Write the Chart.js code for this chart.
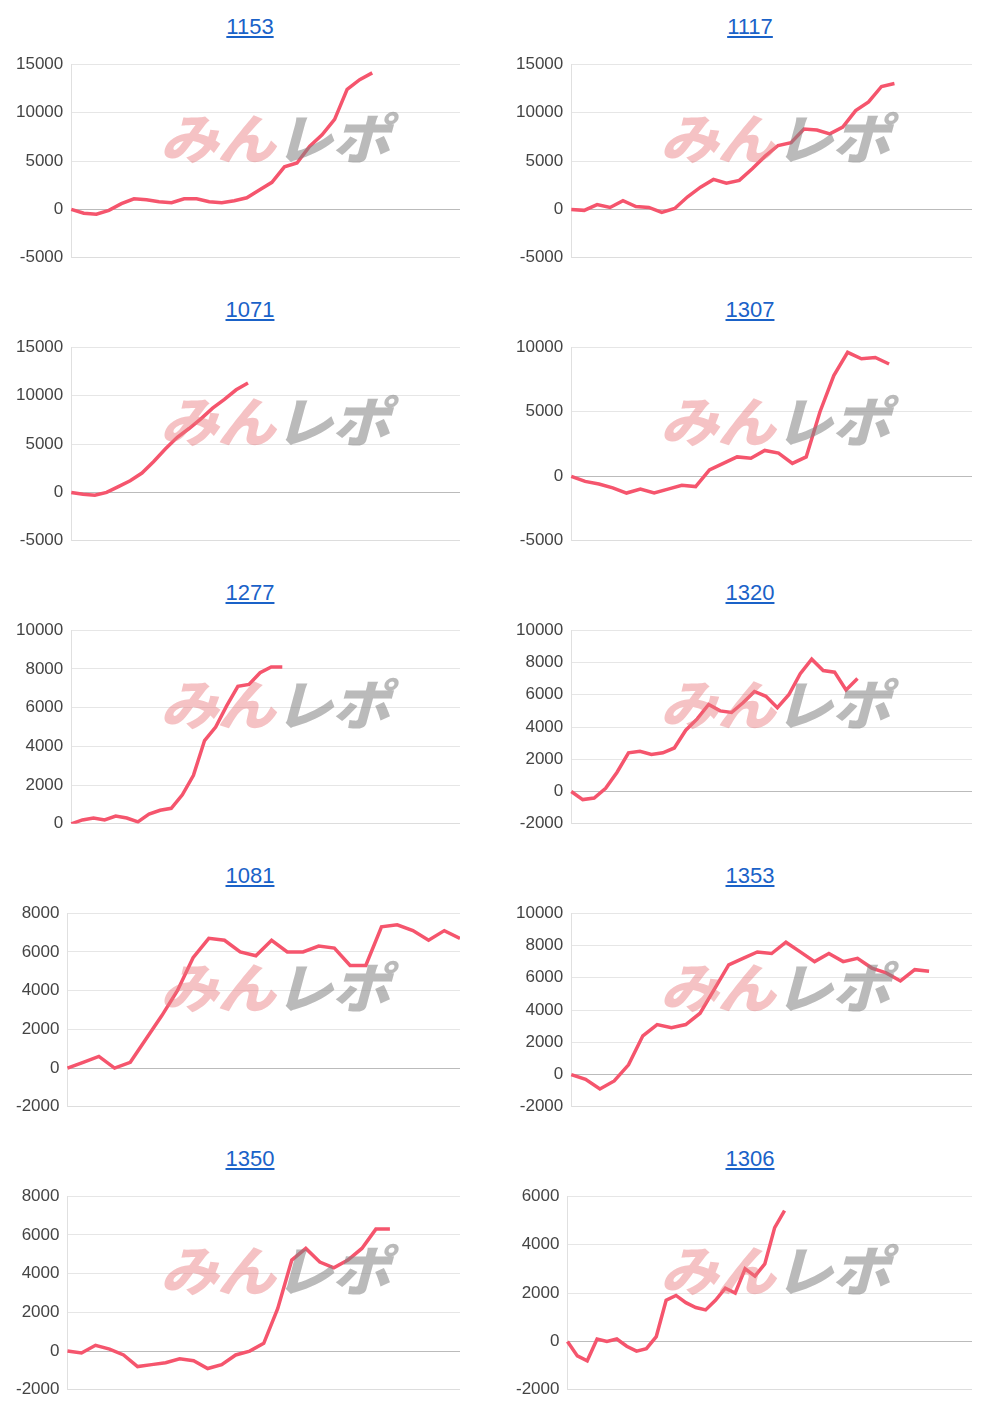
<!DOCTYPE html>
<html>
<head>
<meta charset="utf-8">
<script src="https://cdn.jsdelivr.net/npm/chart.js@4/dist/chart.umd.min.js"></script>
<style>
  body { margin: 0; background: #fff; font-family: "Liberation Sans", Arial, sans-serif; }
  #grid { display: grid; grid-template-columns: 500px 500px; width: 1000px; }
  .cell { position: relative; height: 283px; }
  .title { height: 46px; line-height: 54px; text-align: center; font-size: 22px; color: #1a62c8; text-decoration: underline; }
  .box { position: relative; height: 230px; padding: 0 40px 0 8px; }
  .cell:nth-child(2n) .box { padding: 0 28px 0 8px; }
  .wm { position: absolute; left: 160px; top: 50px; font: italic 900 54px "Noto Sans CJK JP"; letter-spacing: -1px; pointer-events: none; white-space: nowrap; transform: scaleX(1.08); transform-origin: left; }
  .wm .a { color: rgba(232, 120, 125, 0.45); }
  .wm .b { color: rgba(130, 130, 130, 0.55); }
</style>
</head>
<body>
<div id="grid"></div>
<script>
// chart ids
const titles = ["1153", "1117", "1071", "1307", "1277", "1320", "1081", "1353", "1350", "1306"];

// series values
const s1153 = [0, -400, -500, -100, 600, 1100, 1000, 800, 700, 1100, 1100, 800, 700, 900, 1200, 2000, 2800, 4400, 4800, 6500, 7700, 9300, 12400, 13400, 14100];
const s1117 = [0, -100, 500, 200, 900, 300, 200, -300, 100, 1300, 2300, 3100, 2700, 3000, 4200, 5500, 6600, 6900, 8300, 8200, 7800, 8500, 10200, 11100, 12700, 13000];
const s1071 = [0, -200, -300, 0, 600, 1200, 2000, 3200, 4500, 5700, 6600, 7600, 8700, 9600, 10600, 11300];
const s1307 = [0, -400, -600, -900, -1300, -1000, -1300, -1000, -700, -800, 500, 1000, 1500, 1400, 2000, 1800, 1000, 1500, 5000, 7800, 9600, 9100, 9200, 8700];
const s1277 = [0, 200, 300, 200, 400, 300, 100, 500, 700, 800, 1500, 2500, 4300, 5000, 6100, 7100, 7200, 7800, 8100, 8100];
const s1320 = [0, -500, -400, 200, 1200, 2400, 2500, 2300, 2400, 2700, 3800, 4500, 5400, 5000, 4900, 5500, 6200, 5900, 5200, 6000, 7300, 8200, 7500, 7400, 6300, 7000];
const s1081 = [0, 300, 600, 0, 300, 1500, 2700, 4000, 5700, 6700, 6600, 6000, 5800, 6600, 6000, 6000, 6300, 6200, 5300, 5300, 7300, 7400, 7100, 6600, 7100, 6700];
const s1353 = [0, -300, -900, -400, 600, 2400, 3100, 2900, 3100, 3800, 5300, 6800, 7200, 7600, 7500, 8200, 7600, 7000, 7500, 7000, 7200, 6600, 6300, 5800, 6500, 6400];
const s1350 = [0, -100, 300, 100, -200, -800, -700, -600, -400, -500, -900, -700, -200, 0, 400, 2200, 4700, 5300, 4600, 4300, 4700, 5300, 6300, 6300];
const s1306 = [0, -600, -800, 100, 0, 100, -200, -400, -300, 200, 1700, 1900, 1600, 1400, 1300, 1700, 2200, 2000, 3000, 2700, 3200, 4700, 5400];
const series = [s1153, s1117, s1071, s1307, s1277, s1320, s1081, s1353, s1350, s1306];

// number of x slots per chart
const slots = [32, 32, 34, 30, 36, 36, 26, 29, 29, 42];

// y axis ranges [min, max, step]
const yMin = [-5000, -5000, -5000, -5000, 0, -2000, -2000, -2000, -2000, -2000];
const yMax = [15000, 15000, 15000, 10000, 10000, 10000, 8000, 10000, 8000, 6000];
const yStep = [5000, 5000, 5000, 5000, 2000, 2000, 2000, 2000, 2000, 2000];

const grid = document.getElementById("grid");

titles.forEach((t, i) => {
  const cell = document.createElement("div");
  cell.className = "cell";
  cell.innerHTML = `<div class="title">${t}</div>
    <div class="box"><canvas></canvas><div class="wm"><span class="a">みん</span><span class="b">レポ</span></div></div>`;
  grid.appendChild(cell);
  const labels = Array.from({ length: slots[i] }, (_, k) => k + 1);
  new Chart(cell.querySelector("canvas"), {
    type: "line",
    data: {
      labels,
      datasets: [{
        data: series[i],
        borderColor: "#f5556d",
        borderWidth: 3.5,
        pointRadius: 0,
        tension: 0,
      }],
    },
    options: {
      responsive: true,
      maintainAspectRatio: false,
      animation: false,
      plugins: { legend: { display: false }, tooltip: { enabled: false } },
      scales: {
        x: {
          offset: false,
          ticks: { display: false },
          grid: { display: false },
          border: { color: "#ddd" },
        },
        y: {
          min: yMin[i],
          max: yMax[i],
          ticks: {
            stepSize: yStep[i],
            color: "#444",
            font: { size: 17, family: "Liberation Sans" },
            padding: 8,
            callback: (v) => String(v),
          },
          grid: { color: (c) => (c.tick.value === 0 ? "#bbb" : "#e6e6e6"), tickLength: 0 },
          border: { display: true, color: "#e0e0e0" },
        },
      },
    },
  });
});
</script>
</body>
</html>
